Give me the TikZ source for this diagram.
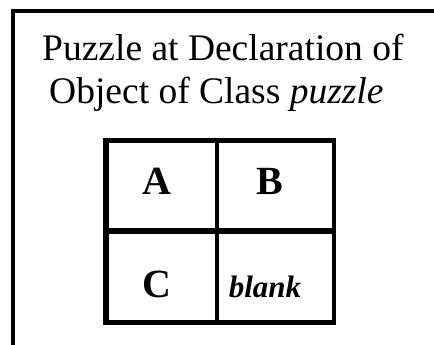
\documentclass[tikz,border=0pt]{standalone}
\usepackage{fontspec}
\setmainfont{Liberation Serif}
\usetikzlibrary{positioning}

\begin{document}
\begin{tikzpicture}[x=1pt, y=-1pt, line cap=butt, line join=miter,
    frame/.style={line width=4pt},
    ttl/.style={font=\fontsize{37.5}{40}\selectfont, inner sep=0pt, anchor=base west},
    cell/.style={font=\fontsize{40}{44}\selectfont\bfseries, inner sep=0pt, anchor=base}]
  \useasboundingbox (0,0) rectangle (434,345);
  % --- outer frame (only left and top edges show) ----------------------
  \coordinate (fbl) at (13,345);
  \coordinate (ftl) at (13,11.3);
  \coordinate (ftr) at (434,11.3);
  \draw[frame] (fbl) -- (ftl) -- (ftr);
  % --- heading ---------------------------------------------------------
  \node[ttl] (title1) at (42,61) {Puzzle at Declaration of};
  \node[ttl] (title2) at (49,103) {Object of Class \textit{puzzle}};
  % --- 2x2 puzzle grid -------------------------------------------------
  \coordinate (gtl) at (106,140.5);
  \coordinate (gbr) at (334,322.5);
  \draw[line width=6pt] (106,138) -- (106,325);        % left edge
  \draw[line width=5pt] (103,140.5) -- (336,140.5);    % top edge
  \draw[line width=5pt] (103,322.5) -- (336,322.5);    % bottom edge
  \draw[line width=4pt] (334,138) -- (334,325);        % right edge
  \draw[line width=4pt] (217,140.5) -- (217,322.5);
  \draw[line width=6pt] (106,231) -- (334,231);
  % tiles
  \node[cell] (tileA) at (157,194) {A};
  \node[cell] (tileB) at (270,194) {B};
  \node[cell] (tileC) at (157,297) {C};
  \node[cell, font=\fontsize{31}{34}\selectfont\bfseries\itshape] (tileD) at (265,297) {blank};
\end{tikzpicture}
\end{document}
